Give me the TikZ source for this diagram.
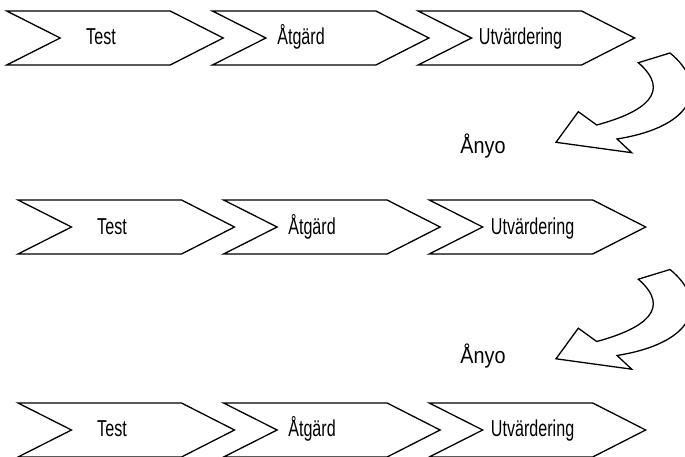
\documentclass[tikz,border=0pt]{standalone}
\usepackage{fontspec}
\setmainfont{Liberation Sans}
\newfontfamily\chevfont[FakeStretch=0.7]{Liberation Sans}
\newfontfamily\againfont[FakeStretch=0.88]{Liberation Sans}
\tikzset{
  chevshape/.style={draw=black, line width=1.3pt, line join=miter, fill=white},
  arrowshape/.style={draw=black, line width=1.3pt, line join=miter, fill=white},
  lbl/.style={inner sep=0pt, anchor=base, font=\chevfont\fontsize{23}{23}\selectfont},
  againlbl/.style={inner sep=0pt, anchor=base, font=\againfont\fontsize{22.5}{22.5}\selectfont}
}
\newcommand\mychev[2]{%
  \draw[chevshape] (#1,#2) -- ++(163.5,0) -- ++(53,27) -- ++(-53,27) -- ++(-163.5,0) -- ++(53.5,-27) -- cycle;}
\newcommand\mycurl[1]{%
  \begin{scope}[yshift=-#1pt]
  \draw[arrowshape] (638.3,62.7) -- (670,53)
     .. controls (708,84) and (698,126) .. (617,139)
     -- (631.7,152.7) -- (556,142.3) -- (578.3,111.7) -- (596.7,125)
     .. controls (645,112) and (672,92) .. (638.3,62.7) -- cycle;
  \end{scope}}
\begin{document}
\begin{tikzpicture}[x=1pt,y=-1pt]
\useasboundingbox (0,0) rectangle (685,457);
% row 1
\mychev{6.7}{11}
\mychev{212.4}{11}
\mychev{418.1}{11}
\node[lbl] (t1) at (101,45) {Test};
\node[lbl] (a1) at (301,45) {Åtgärd};
\node[lbl] (u1) at (520.5,45) {Utvärdering};
\mycurl{0}
\node[againlbl] (n1) at (483,153.5) {Ånyo};
% row 2
\mychev{18}{200}
\mychev{223.6}{200}
\mychev{429.2}{200}
\node[lbl] (t2) at (112,234) {Test};
\node[lbl] (a2) at (312,234) {Åtgärd};
\node[lbl] (u2) at (532.6,234) {Utvärdering};
\mycurl{216.5}
\node[againlbl] (n2) at (483,363.5) {Ånyo};
% row 3
\mychev{18}{403}
\mychev{223.6}{403}
\mychev{429.2}{403}
\node[lbl] (t3) at (112,436.5) {Test};
\node[lbl] (a3) at (312,436.5) {Åtgärd};
\node[lbl] (u3) at (532.6,436.5) {Utvärdering};
\end{tikzpicture}
\end{document}
